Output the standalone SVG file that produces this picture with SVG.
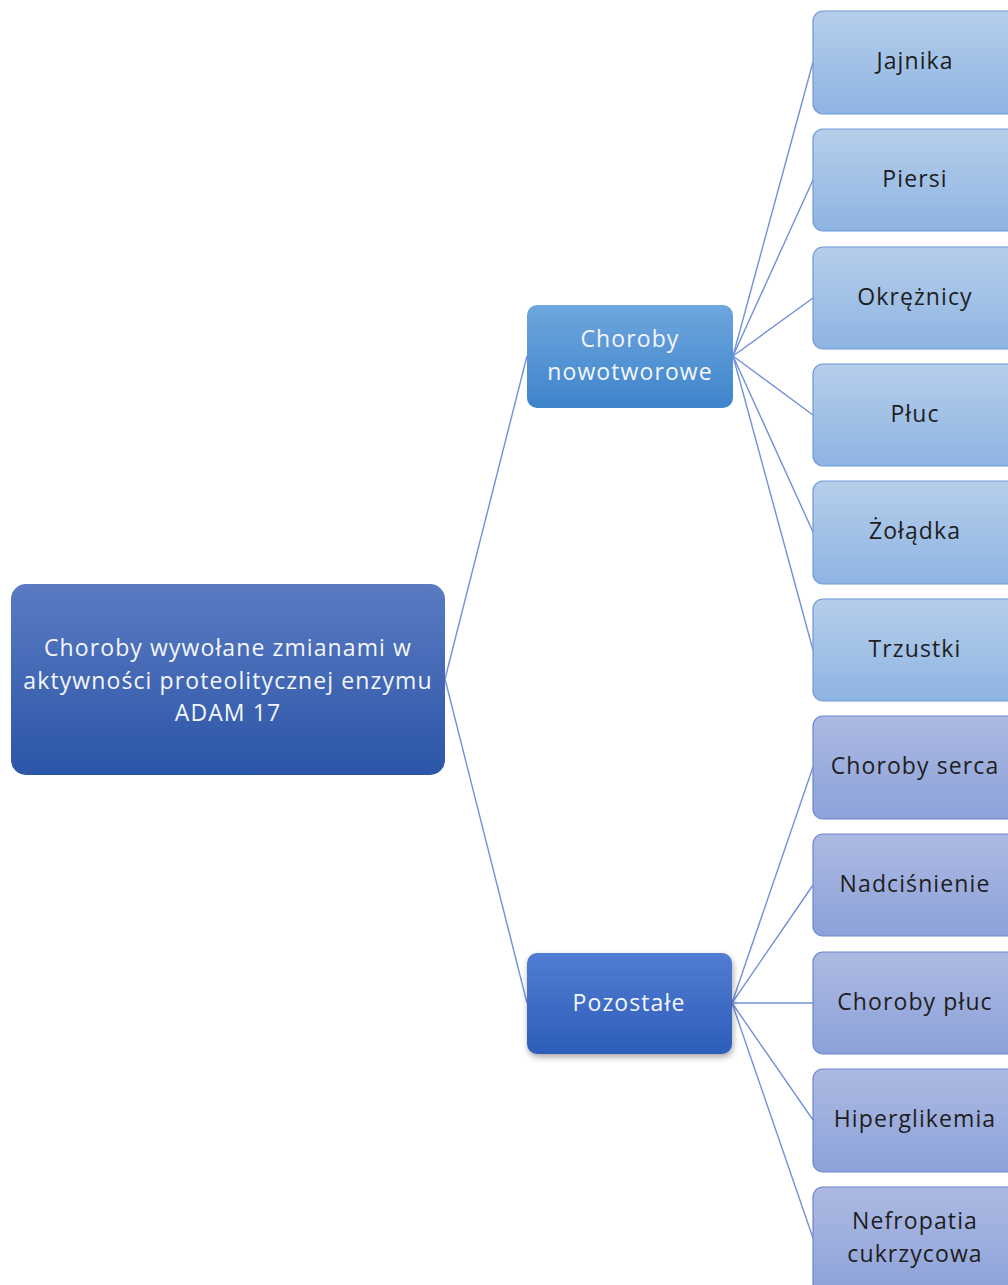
<svg xmlns="http://www.w3.org/2000/svg" width="1008" height="1285" viewBox="0 0 1008 1285">
<defs>
<linearGradient id="gRoot" x1="0" y1="0" x2="0" y2="1"><stop offset="0" stop-color="#5A7BC2"/><stop offset="1" stop-color="#2B55A7"/></linearGradient>
<linearGradient id="gMid1" x1="0" y1="0" x2="0" y2="1"><stop offset="0" stop-color="#6EA6DE"/><stop offset="1" stop-color="#3E84CB"/></linearGradient>
<linearGradient id="gMid2" x1="0" y1="0" x2="0" y2="1"><stop offset="0" stop-color="#527CD2"/><stop offset="1" stop-color="#2C5DBA"/></linearGradient>
<linearGradient id="gLeafA" x1="0" y1="0" x2="0" y2="1"><stop offset="0" stop-color="#B6CEEB"/><stop offset="1" stop-color="#8EB4E2"/></linearGradient>
<linearGradient id="gLeafB" x1="0" y1="0" x2="0" y2="1"><stop offset="0" stop-color="#ADB9E2"/><stop offset="1" stop-color="#8CA2D9"/></linearGradient>
<filter id="sh" x="-10%" y="-10%" width="130%" height="130%"><feDropShadow dx="1" dy="3" stdDeviation="3" flood-color="#000" flood-opacity="0.35"/></filter>
<style>
.lbl{font-family:"Open Sans","Noto Sans","Liberation Sans",sans-serif;font-size:23px;letter-spacing:1.1px;text-anchor:middle}
.w{fill:#F4F6FB}
.d{fill:#1E1E1E}
.leafA{fill:url(#gLeafA);stroke:#6D9AD6;stroke-width:1.2}
.leafB{fill:url(#gLeafB);stroke:#6C86D0;stroke-width:1.2}
.conn line{stroke:#7291D9;stroke-width:1.4}
</style>
</defs>
<g class="conn" id="connectors">
<line x1="445" y1="679" x2="527" y2="356"/>
<line x1="445" y1="679" x2="527" y2="1003"/>
<line x1="733" y1="356" x2="813" y2="62"/>
<line x1="733" y1="356" x2="813" y2="180"/>
<line x1="733" y1="356" x2="813" y2="298"/>
<line x1="733" y1="356" x2="813" y2="415"/>
<line x1="733" y1="356" x2="813" y2="532"/>
<line x1="733" y1="356" x2="813" y2="650"/>
<line x1="732" y1="1003" x2="813" y2="767"/>
<line x1="732" y1="1003" x2="813" y2="885"/>
<line x1="732" y1="1003" x2="813" y2="1003"/>
<line x1="732" y1="1003" x2="813" y2="1120"/>
<line x1="732" y1="1003" x2="813" y2="1238"/>
</g>
<g id="root">
<rect x="11" y="584" width="434" height="191" rx="15" fill="url(#gRoot)"/>
<text class="lbl w" x="228" y="656">Choroby wywołane zmianami w</text>
<text class="lbl w" x="228" y="689">aktywności proteolitycznej enzymu</text>
<text class="lbl w" x="228" y="721">ADAM 17</text>
</g>
<g id="n-nowotworowe">
<rect x="527" y="305" width="206" height="103" rx="10" fill="url(#gMid1)"/>
<text class="lbl w" x="630" y="347">Choroby</text>
<text class="lbl w" x="630" y="380">nowotworowe</text>
</g>
<g id="n-pozostale">
<rect x="527" y="953" width="205" height="101" rx="10" fill="url(#gMid2)" filter="url(#sh)"/>
<text class="lbl w" x="629" y="1011">Pozostałe</text>
</g>
<g id="l-jajnika"><rect class="leafA" x="813" y="11" width="205" height="103" rx="10"/><text class="lbl d" x="915" y="69">Jajnika</text></g>
<g id="l-piersi"><rect class="leafA" x="813" y="129" width="205" height="102" rx="10"/><text class="lbl d" x="915" y="187">Piersi</text></g>
<g id="l-okreznicy"><rect class="leafA" x="813" y="247" width="205" height="102" rx="10"/><text class="lbl d" x="915" y="305">Okrężnicy</text></g>
<g id="l-pluc"><rect class="leafA" x="813" y="364" width="205" height="102" rx="10"/><text class="lbl d" x="915" y="422">Płuc</text></g>
<g id="l-zoladka"><rect class="leafA" x="813" y="481" width="205" height="103" rx="10"/><text class="lbl d" x="915" y="539">Żołądka</text></g>
<g id="l-trzustki"><rect class="leafA" x="813" y="599" width="205" height="102" rx="10"/><text class="lbl d" x="915" y="657">Trzustki</text></g>
<g id="l-serca"><rect class="leafB" x="813" y="716" width="205" height="103" rx="10"/><text class="lbl d" x="915" y="774">Choroby serca</text></g>
<g id="l-nadcisnienie"><rect class="leafB" x="813" y="834" width="205" height="102" rx="10"/><text class="lbl d" x="915" y="892">Nadciśnienie</text></g>
<g id="l-pluca"><rect class="leafB" x="813" y="952" width="205" height="102" rx="10"/><text class="lbl d" x="915" y="1010">Choroby płuc</text></g>
<g id="l-hiperglikemia"><rect class="leafB" x="813" y="1069" width="205" height="103" rx="10"/><text class="lbl d" x="915" y="1127">Hiperglikemia</text></g>
<g id="l-nefropatia"><rect class="leafB" x="813" y="1187" width="205" height="110" rx="10"/><text class="lbl d" x="915" y="1229">Nefropatia</text><text class="lbl d" x="915" y="1262">cukrzycowa</text></g>
</svg>
